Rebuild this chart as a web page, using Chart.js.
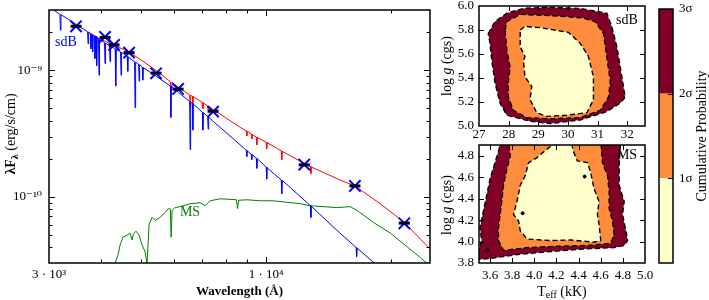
<!DOCTYPE html>
<html>
<head>
<meta charset="utf-8">
<script src="https://cdn.jsdelivr.net/npm/chart.js@4.4.0/dist/chart.umd.min.js"></script>
<style>
  body { margin: 0; background: #fff; }
  #wrap { position: relative; width: 709px; height: 300px; }
  canvas { position: absolute; }
</style>
</head>
<body>
<div id="wrap">
  <canvas id="sed" width="440" height="300" style="left:0;top:0"></canvas>
  <canvas id="cSdb" width="215" height="140" style="left:440px;top:0"></canvas>
  <canvas id="cMs" width="215" height="160" style="left:440px;top:140px"></canvas>
  <canvas id="cbar" width="54" height="300" style="left:655px;top:0"></canvas>
</div>
<script>
// --- SED (wavelength in Angstrom, lambda*F_lambda in erg/s/cm^2) ---
const sdbWave = [3000, 3187, 3196, 3205, 3488, 3715, 3726, 3737, 3775, 3786, 3797, 3811, 3822, 3833, 3860, 3871, 3882, 3897, 3908, 3919, 3948, 3959, 3970, 3981, 4081, 4093, 4105, 4196, 4208, 4220, 4330, 4343, 4356, 4460, 4473, 4486, 4629, 4642, 4655, 4677, 4821, 4835, 4849, 4930, 4944, 4958, 5032, 5046, 5060, 5433, 5879, 5895, 5911, 6137, 6543, 6561, 6579, 6642, 6660, 6678, 7021, 7040, 7059, 7230, 7250, 7270, 7455, 8655, 8956, 8981, 9006, 9208, 9234, 9260, 9467, 9494, 9521, 10002, 10030, 10058, 10215, 10872, 10902, 10932, 12554, 12779, 12814, 12849, 15053, 16466, 16512, 16558, 18606];
const sdbFlux = [3.19e-9, 2.77e-9, 2.08e-9, 2.76e-9, 2.31e-9, 2.02e-9, 1.62e-9, 2.00e-9, 1.95e-9, 1.48e-9, 1.93e-9, 1.91e-9, 1.40e-9, 1.89e-9, 1.87e-9, 1.24e-9, 1.86e-9, 1.85e-9, 1.09e-9, 1.83e-9, 1.78e-9, 9.15e-10, 1.76e-9, 1.74e-9, 1.66e-9, 1.13e-9, 1.64e-9, 1.57e-9, 1.17e-9, 1.56e-9, 1.48e-9, 7.51e-10, 1.47e-9, 1.40e-9, 9.15e-10, 1.39e-9, 1.29e-9, 9.82e-10, 1.28e-9, 1.26e-9, 1.17e-9, 5.07e-10, 1.16e-9, 1.12e-9, 8.22e-10, 1.11e-9, 1.06e-9, 8.37e-10, 1.05e-9, 9.0e-10, 7.51e-10, 4.25e-10, 7.48e-10, 6.75e-10, 5.66e-10, 2.36e-10, 5.60e-10, 5.47e-10, 3.37e-10, 5.43e-10, 4.66e-10, 3.37e-10, 4.62e-10, 4.32e-10, 3.43e-10, 4.28e-10, 3.95e-10, 2.58e-10, 2.33e-10, 2.08e-10, 2.31e-10, 2.17e-10, 1.97e-10, 2.15e-10, 2.02e-10, 1.68e-10, 2.00e-10, 1.72e-10, 1.38e-10, 1.70e-10, 1.62e-10, 1.36e-10, 1.055e-10, 1.35e-10, 8.98e-11, 8.5e-11, 6.88e-11, 8.4e-11, 5.17e-11, 3.98e-11, 3.37e-11, 3.93e-11, 2.82e-11];

const msWave = [4290, 4326, 4400, 4449, 4523, 4625, 4702, 4755, 4790, 4861, 4943, 5026, 5110, 5167, 5225, 5313, 5402, 5554, 5710, 5806, 5880, 5904, 5936, 6036, 6206, 6560, 6933, 7128, 7329, 7747, 8480, 8530, 8580, 9000, 9674, 10398, 12076, 12765, 14829, 15935, 16568, 18106, 19898, 21868, 23503, 24500, 25500];
const msFlux = [2.7e-11, 2.97e-11, 3.49e-11, 4.17e-11, 4.81e-11, 4.98e-11, 5.17e-11, 4.56e-11, 5.1e-11, 5.36e-11, 4.98e-11, 4.17e-11, 3.68e-11, 2.97e-11, 6.07e-11, 6.88e-11, 6.51e-11, 6.88e-11, 7.52e-11, 8.07e-11, 8.0e-11, 4.81e-11, 7.79e-11, 8.22e-11, 8.37e-11, 8.83e-11, 8.98e-11, 8.51e-11, 9.31e-11, 9.65e-11, 9.5e-11, 8.07e-11, 9.4e-11, 9.48e-11, 9.31e-11, 9.31e-11, 8.83e-11, 8.51e-11, 8.22e-11, 8.37e-11, 7.79e-11, 6.29e-11, 5.17e-11, 4.02e-11, 3.31e-11, 2.95e-11, 2.6e-11];

const sumWave = [3726, 3981, 4677, 5433, 5880, 5905, 5930, 6137, 6543, 6561, 6579, 6642, 6660, 6678, 7021, 7040, 7059, 7230, 7250, 7270, 7455, 8655, 8956, 8981, 9006, 9208, 9234, 9260, 9467, 9494, 9521, 10002, 10030, 10058, 10872, 10902, 10932, 10983, 12347, 12779, 12814, 12849, 15053, 16357, 18812, 21498, 24791, 25500];
const sumFlux = [2.01e-9, 1.77e-9, 1.40e-9, 1.0e-9, 8.13e-10, 7.0e-10, 8.05e-10, 7.38e-10, 6.41e-10, 5.26e-10, 6.35e-10, 6.25e-10, 5.26e-10, 6.2e-10, 5.57e-10, 4.99e-10, 5.53e-10, 5.23e-10, 4.81e-10, 5.19e-10, 4.90e-10, 3.55e-10, 3.32e-10, 3.03e-10, 3.31e-10, 3.14e-10, 2.87e-10, 3.12e-10, 2.97e-10, 2.58e-10, 2.95e-10, 2.70e-10, 2.40e-10, 2.68e-10, 2.31e-10, 1.97e-10, 2.29e-10, 2.27e-10, 1.84e-10, 1.74e-10, 1.53e-10, 1.72e-10, 1.36e-10, 1.22e-10, 8.83e-11, 6.29e-11, 3.88e-11, 3.4e-11];

// observed photometry and the model's synthetic magnitudes
const photWave = [3485, 4093, 4303, 4677, 5432, 6137, 7453, 12350, 16357, 21510];
const photFlux = [2.23e-9, 1.84e-9, 1.59e-9, 1.38e-9, 9.48e-10, 7.13e-10, 4.72e-10, 1.80e-10, 1.22e-10, 6.18e-11];
const synFlux = [2.23e-9, 1.82e-9, 1.59e-9, 1.38e-9, 9.5e-10, 7.1e-10, 4.75e-10, 1.79e-10, 1.22e-10, 6.2e-11];

const sedXTicks = [3000, 4000, 5000, 6000, 7000, 8000, 9000, 10000, 20000];
const sedXText = ['3 · 10³', '', '', '', '', '', '', '1 · 10⁴', ''];
const sedYTicks = [3e-11, 4e-11, 5e-11, 6e-11, 7e-11, 8e-11, 9e-11, 1e-10, 2e-10, 3e-10, 4e-10, 5e-10, 6e-10, 7e-10, 8e-10, 9e-10, 1e-9, 2e-9, 3e-9];
const sedYText = ['', '', '', '', '', '', '', '10⁻¹⁰', '', '', '', '', '', '', '', '', '10⁻⁹', '', ''];

// --- confidence contours (Teff in kK, log g) ---
const sdbT3 = [27.31, 27.54, 27.94, 28.50, 29.29, 30.41, 31.31, 31.48, 31.65, 31.82, 31.93, 31.76, 31.31, 30.41, 29.40, 28.72, 27.94, 27.71, 27.54, 27.43, 27.37, 27.31];
const sdbG3 = [5.77, 5.87, 5.94, 5.98, 5.99, 5.98, 5.94, 5.83, 5.66, 5.41, 5.24, 5.19, 5.12, 5.05, 5.02, 5.04, 5.09, 5.19, 5.36, 5.55, 5.69, 5.77];
const sdbT2 = [27.88, 27.94, 28.39, 29.40, 30.02, 30.52, 30.92, 31.20, 31.31, 31.43, 31.37, 31.09, 30.41, 29.40, 28.61, 28.16, 27.99, 27.99, 28.05, 27.94, 27.88];
const sdbG2 = [5.80, 5.87, 5.93, 5.92, 5.91, 5.90, 5.87, 5.77, 5.58, 5.37, 5.24, 5.13, 5.07, 5.06, 5.07, 5.13, 5.24, 5.36, 5.49, 5.63, 5.80];
const sdbT1 = [28.39, 28.55, 29.06, 30.02, 30.41, 30.69, 30.86, 30.86, 30.64, 29.96, 29.29, 28.95, 28.72, 28.78, 28.55, 28.50, 28.55, 28.39, 28.39];
const sdbG1 = [5.80, 5.83, 5.82, 5.78, 5.69, 5.58, 5.41, 5.22, 5.11, 5.09, 5.08, 5.11, 5.22, 5.33, 5.41, 5.54, 5.58, 5.66, 5.80];

const msT3 = [3.676, 3.706, 4.782, 4.767, 4.767, 4.812, 4.797, 4.827, 4.843, 4.812, 4.721, 4.479, 4.176, 3.873, 3.600, 3.494, 3.494, 3.524, 3.509, 3.539, 3.570, 3.600, 3.645, 3.676];
const msG3 = [4.842, 4.95, 4.95, 4.736, 4.524, 4.373, 4.252, 4.100, 4.009, 3.964, 3.943, 3.933, 3.909, 3.882, 3.843, 3.833, 3.903, 4.009, 4.130, 4.282, 4.433, 4.585, 4.736, 4.842];
const msT2 = [3.767, 4.600, 4.615, 4.661, 4.676, 4.676, 4.706, 4.721, 4.691, 4.479, 4.176, 3.934, 3.721, 3.676, 3.676, 3.691, 3.706, 3.721, 3.752, 3.782, 3.767];
const msG2 = [4.95, 4.95, 4.736, 4.615, 4.464, 4.312, 4.191, 4.070, 3.985, 3.964, 3.955, 3.943, 3.918, 4.009, 4.130, 4.252, 4.373, 4.524, 4.676, 4.797, 4.95];
const msT1 = [4.055, 4.130, 4.206, 4.327, 4.358, 4.388, 4.479, 4.509, 4.539, 4.585, 4.570, 4.585, 4.600, 4.539, 4.327, 4.145, 3.934, 3.873, 3.858, 3.812, 3.843, 3.873, 3.918, 3.948, 4.024, 4.055];
const msG1 = [4.812, 4.873, 4.95, 4.95, 4.827, 4.752, 4.736, 4.645, 4.494, 4.373, 4.252, 4.161, 4.009, 3.994, 4.015, 4.009, 4.024, 4.100, 4.191, 4.252, 4.373, 4.524, 4.615, 4.736, 4.782, 4.812];
const msDotT = [4.455, 3.894, 3.576];
const msDotG = [4.606, 4.264, 3.918];

const sdbXTicks = [27, 28, 29, 30, 31, 32];
const sdbYTicks = [5.0, 5.2, 5.4, 5.6, 5.8, 6.0];
const msXTicks = [3.6, 3.8, 4.0, 4.2, 4.4, 4.6, 4.8, 5.0];
const msYTicks = [3.8, 4.0, 4.2, 4.4, 4.6, 4.8];

// colour bar: three bands of one sigma each
const cbarBands = [1, 1, 1];
const cbarTicks = [1, 2, 3];
const cbarText = ['1σ', '2σ', '3σ'];

const SERIF = '"Liberation Serif", "DejaVu Serif", serif';
const C_RED = '#800026', C_ORANGE = '#fd8d3c', C_YELLOW = '#ffffcc';

Chart.defaults.font.family = SERIF;
Chart.defaults.font.size = 13;
Chart.defaults.color = '#000';
Chart.defaults.animation = false;
Chart.defaults.events = [];
Chart.defaults.plugins.legend.display = false;
Chart.defaults.plugins.tooltip.enabled = false;

function pairs(xs, ys) {
  return xs.map((x, i) => ({ x: x, y: ys[i] }));
}

// fixed axis box, and no extra room for labels that hang over the edges
function fixSize(prop, size) {
  return s => {
    s[prop] = size;
    s.paddingTop = s.paddingBottom = s.paddingLeft = s.paddingRight = 0;
  };
}

// matplotlib-like inward ticks plus a frame round the plot area
function boxTicks(sides, major, minor) {
  return {
    id: 'boxTicks',
    afterDatasetsDraw(chart) {
      const ctx = chart.ctx, a = chart.chartArea;
      ctx.save();
      ctx.strokeStyle = '#000';
      ctx.lineWidth = 1;
      Object.values(chart.scales).forEach(s => {
        if (!s.options.display) return;
        const horiz = s.isHorizontal();
        s.ticks.forEach(t => {
          let p = s.getPixelForValue(t.value);
          if (horiz ? (p < a.left + 1 || p > a.right - 1) : (p < a.top + 1 || p > a.bottom - 1)) return;
          p = Math.round(p) + 0.5;
          const len = t.label ? major : minor;
          ctx.beginPath();
          if (horiz) {
            if (sides.includes('bottom')) { ctx.moveTo(p, a.bottom); ctx.lineTo(p, a.bottom - len); }
            if (sides.includes('top')) { ctx.moveTo(p, a.top); ctx.lineTo(p, a.top + len); }
          } else {
            if (sides.includes('left')) { ctx.moveTo(a.left, p); ctx.lineTo(a.left + len, p); }
            if (sides.includes('right')) { ctx.moveTo(a.right, p); ctx.lineTo(a.right - len, p); }
          }
          ctx.stroke();
        });
      });
      ctx.lineWidth = 1.5;
      ctx.strokeRect(a.left, a.top, a.right - a.left, a.bottom - a.top);
      ctx.restore();
    }
  };
}

// text with sub/superscript parts, centred on (x, y)
function drawRich(ctx, item) {
  ctx.save();
  ctx.translate(item.x, item.y);
  if (item.rot) ctx.rotate(item.rot);
  ctx.textBaseline = 'middle';
  ctx.textAlign = 'left';
  let w = 0;
  item.parts.forEach(p => { ctx.font = p.font; w += ctx.measureText(p.text).width; });
  let cx = -w / 2;
  item.parts.forEach(p => {
    ctx.font = p.font;
    ctx.fillStyle = p.color || '#000';
    ctx.fillText(p.text, cx, p.dy || 0);
    cx += ctx.measureText(p.text).width;
  });
  ctx.restore();
}

function labels(items) {
  return {
    id: 'labels',
    afterDraw(chart) { items.forEach(it => drawRich(chart.ctx, it)); }
  };
}

const UP = -Math.PI / 2;
const loggLabel = [
  { text: 'log ', font: '14px ' + SERIF },
  { text: 'g', font: 'italic 14px ' + SERIF },
  { text: ' (cgs)', font: '14px ' + SERIF }
];

function setTicks(vals) {
  return scale => { scale.ticks = vals.map(v => ({ value: v })); };
}

// ---------- SED ----------
new Chart(document.getElementById('sed'), {
  type: 'scatter',
  data: {
    datasets: [
      { data: pairs(photWave, synFlux), pointStyle: 'line', pointRadius: 5.5, pointBorderWidth: 3, pointBorderColor: '#000', borderColor: '#000' },
      { data: pairs(photWave, photFlux), pointStyle: 'crossRot', pointRadius: 8, pointBorderWidth: 2, pointBorderColor: '#0000ff', borderColor: '#0000ff' },
      { data: pairs(sdbWave, sdbFlux), showLine: true, pointRadius: 0, borderColor: '#0000ff', borderWidth: 1 },
      { data: pairs(msWave, msFlux), showLine: true, pointRadius: 0, borderColor: '#008000', borderWidth: 1 },
      { data: pairs(sumWave, sumFlux), showLine: true, pointRadius: 0, borderColor: '#ff0000', borderWidth: 1 }
    ]
  },
  options: {
    responsive: false,
    layout: { padding: { top: 6, right: 10, left: 0, bottom: 0 } },
    scales: {
      x: {
        type: 'logarithmic', min: 3000, max: 24800,
        afterBuildTicks: setTicks(sedXTicks),
        afterFit: fixSize('height', 37),
        grid: { display: false, drawTicks: false },
        border: { display: false },
        ticks: { autoSkip: false, maxRotation: 0, padding: 4, callback: (v, i) => sedXText[i] },
        title: { display: true, text: 'Wavelength (Å)', font: { size: 13, weight: 'bold' }, padding: { top: 0, bottom: 1 } }
      },
      y: {
        type: 'logarithmic', min: 3e-11, max: 3e-9,
        afterBuildTicks: setTicks(sedYTicks),
        afterFit: fixSize('width', 49),
        grid: { display: false, drawTicks: false },
        border: { display: false },
        ticks: { autoSkip: false, padding: 7, callback: (v, i) => sedYText[i] }
      }
    }
  },
  plugins: [
    boxTicks(['left', 'right', 'top', 'bottom'], 6, 3.5),
    labels([
      { x: 11, y: 134, rot: UP, parts: [
        { text: 'λF', font: 'bold 14px ' + SERIF },
        { text: 'λ', font: 'bold 10px ' + SERIF, dy: 4 },
        { text: ' (erg/s/cm)', font: '14px ' + SERIF }
      ] },
      { x: 66, y: 42, parts: [{ text: 'sdB', font: '14px ' + SERIF, color: '#0000ff' }] },
      { x: 190, y: 212, parts: [{ text: 'MS', font: '14px ' + SERIF, color: '#008000' }] }
    ])
  ]
});

// ---------- contour panels ----------
function contour(band, col) {
  return {
    data: band, showLine: true, fill: 'shape', backgroundColor: col,
    borderColor: '#000', borderWidth: 1.4, borderDash: [5, 3], pointRadius: 0, tension: 0
  };
}

function panel(id, sets, xr, yr, xTicks, yTicks, xFmt, xHeight, topPad, extra) {
  return new Chart(document.getElementById(id), {
    type: 'scatter',
    data: { datasets: sets },
    options: {
      responsive: false,
      layout: { padding: { top: topPad, right: 10, left: 0, bottom: 0 } },
      scales: {
        x: {
          type: 'linear', min: xr[0], max: xr[1],
          afterBuildTicks: setTicks(xTicks),
          afterFit: fixSize('height', xHeight),
          grid: { display: false, drawTicks: false },
          border: { display: false },
          ticks: { autoSkip: false, maxRotation: 0, padding: xHeight > 20 ? 5 : 1, callback: xFmt }
        },
        y: {
          type: 'linear', min: yr[0], max: yr[1],
          afterBuildTicks: setTicks(yTicks),
          afterFit: fixSize('width', 39),
          grid: { display: false, drawTicks: false },
          border: { display: false },
          ticks: { autoSkip: false, padding: 5, callback: v => v.toFixed(1) }
        }
      }
    },
    plugins: [boxTicks(['left', 'right', 'top', 'bottom'], 5, 3), labels(extra)]
  });
}

panel('cSdb', [
  contour(pairs(sdbT1, sdbG1), C_YELLOW),
  contour(pairs(sdbT2, sdbG2), C_ORANGE),
  contour(pairs(sdbT3, sdbG3), C_RED)
], [27, 32.6], [5.0, 6.0], sdbXTicks, sdbYTicks, v => String(v), 14, 6, [
  { x: 7, y: 66, rot: UP, parts: loggLabel },
  { x: 187, y: 20, parts: [{ text: 'sdB', font: '14px ' + SERIF }] }
]);

panel('cMs', [
  { data: pairs(msDotT, msDotG), pointRadius: 1.5, pointBackgroundColor: '#000', pointBorderColor: '#000' },
  contour(pairs(msT1, msG1), C_YELLOW),
  contour(pairs(msT2, msG2), C_ORANGE),
  contour(pairs(msT3, msG3), C_RED)
], [3.5, 5.0], [3.8, 4.9], msXTicks, msYTicks, v => v.toFixed(1), 37, 2, [
  { x: 7, y: 65, rot: UP, parts: loggLabel },
  { x: 187, y: 15, parts: [{ text: 'MS', font: '14px ' + SERIF }] },
  { x: 122, y: 152, parts: [
    { text: 'T', font: '14px ' + SERIF },
    { text: 'eff', font: '10px ' + SERIF, dy: 3 },
    { text: ' (kK)', font: '14px ' + SERIF }
  ] }
]);

// ---------- colour bar ----------
new Chart(document.getElementById('cbar'), {
  type: 'bar',
  data: {
    labels: [''],
    datasets: cbarBands.map((b, i) => ({
      data: [b], backgroundColor: [C_YELLOW, C_ORANGE, C_RED][i],
      borderWidth: 0, barPercentage: 1, categoryPercentage: 1
    }))
  },
  options: {
    responsive: false,
    layout: { padding: { top: 9, left: 4, right: 0, bottom: 37 } },
    scales: {
      x: { display: false, stacked: true },
      y: {
        position: 'right', stacked: true, min: 0, max: 3,
        afterBuildTicks: setTicks(cbarTicks),
        afterFit: fixSize('width', 36),
        grid: { display: false, drawTicks: false },
        border: { display: false },
        ticks: { autoSkip: false, padding: 6, callback: (v, i) => cbarText[i] }
      }
    }
  },
  plugins: [
    boxTicks(['right'], 5, 3),
    labels([{ x: 47, y: 136, rot: UP, parts: [{ text: 'Cumulative Probability', font: '14px ' + SERIF }] }])
  ]
});
</script>
</body>
</html>
